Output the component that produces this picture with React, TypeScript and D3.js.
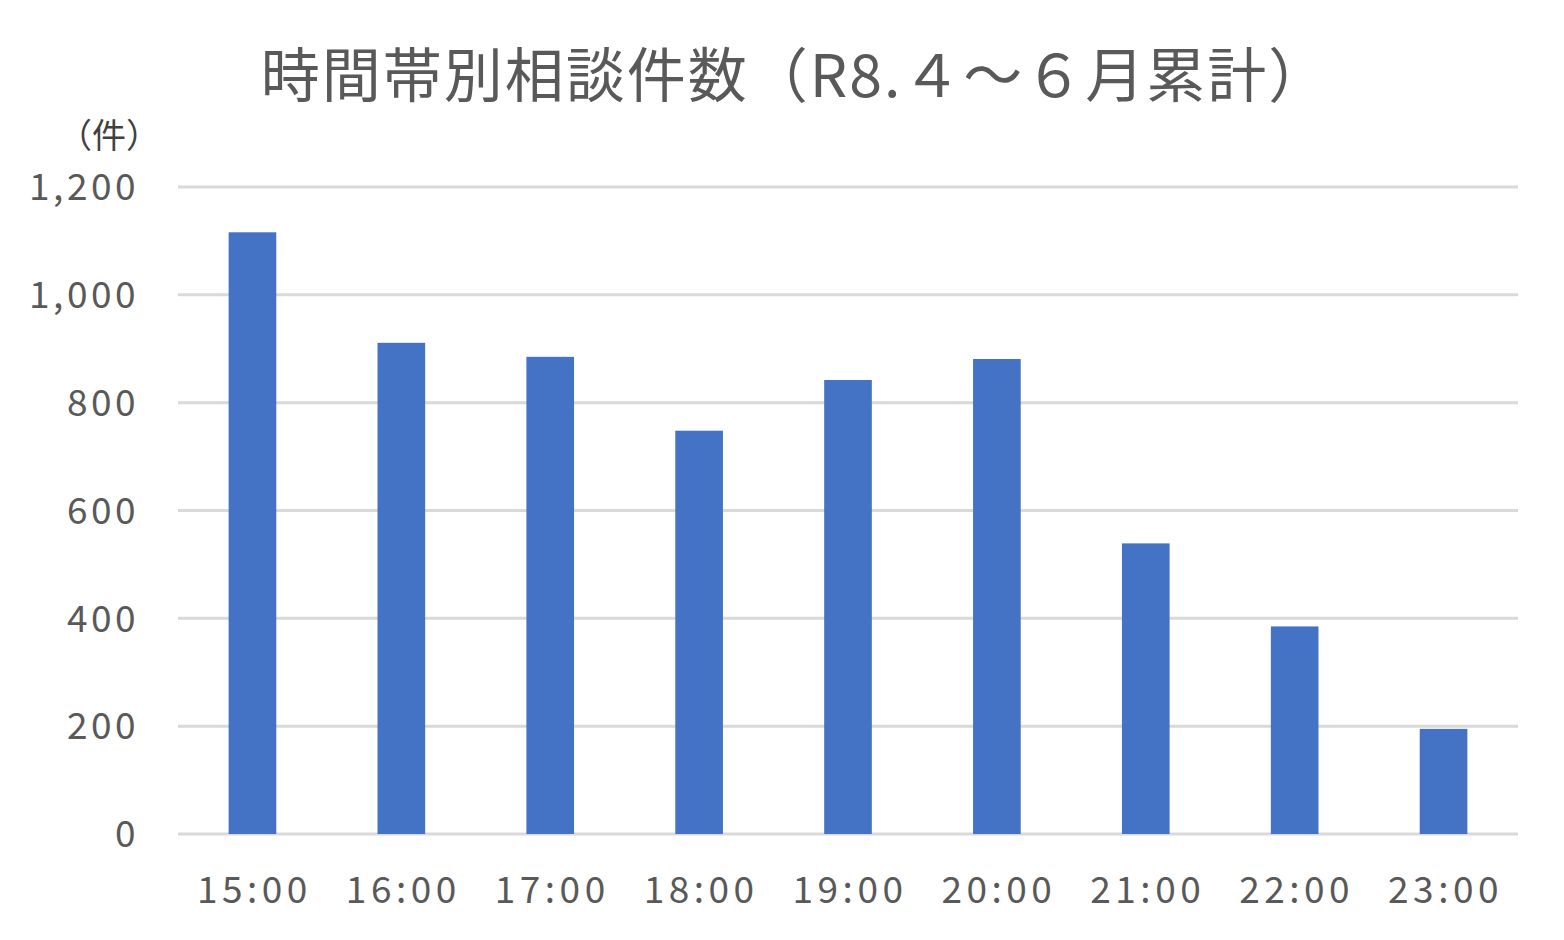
import { useRef, useEffect } from 'react';
import * as d3 from 'd3';

const categories = ['15:00', '16:00', '17:00', '18:00', '19:00', '20:00', '21:00', '22:00', '23:00'];
const counts = [1116, 911, 885, 748, 842, 881, 539, 385, 195];
const yTicks = [0, 200, 400, 600, 800, 1000, 1200];

const titleText = '時間帯別相談件数（R8.４～６月累計）';
const unitText = '（件）';

const WIDTH = 1564;
const HEIGHT = 940;
const FONT = '"Noto Sans CJK JP", "Noto Sans", sans-serif';

/**
 * Bar chart of consultation counts by time slot
 */
export default function App() {
  const svgRef = useRef<SVGSVGElement>(null);

  useEffect(() => {
    if (!svgRef.current) return;
    const svg = d3.select(svgRef.current);
    svg.selectAll('*').remove();

    const margin = { top: 187, right: 46, bottom: 106, left: 178 };
    const innerWidth = WIDTH - margin.left - margin.right;
    const innerHeight = HEIGHT - margin.top - margin.bottom;

    svg.append('rect').attr('width', WIDTH).attr('height', HEIGHT).attr('fill', '#ffffff');

    const g = svg.append('g').attr('transform', `translate(${margin.left},${margin.top})`);

    const xScale = d3
      .scaleBand()
      .domain(categories)
      .range([0, innerWidth])
      .paddingInner(0.68)
      .paddingOuter(0.34);

    const yScale = d3.scaleLinear().domain([0, 1200]).range([innerHeight, 0]);
    const fmt = d3.format(',');

    // gridlines
    g.selectAll('.grid')
      .data(yTicks)
      .join('line')
      .attr('class', 'grid')
      .attr('x1', 0)
      .attr('x2', innerWidth)
      .attr('y1', (d) => yScale(d))
      .attr('y2', (d) => yScale(d))
      .attr('stroke', '#d9d9d9')
      .attr('stroke-width', 3);

    // y labels
    g.selectAll('.y-label')
      .data(yTicks)
      .join('text')
      .attr('class', 'y-label')
      .attr('x', -39)
      .attr('y', (d) => yScale(d))
      .attr('dy', '0.36em')
      .attr('text-anchor', 'end')
      .attr('fill', '#595959')
      .attr('font-family', FONT)
      .attr('font-size', '37px')
      .attr('letter-spacing', '3.5px')
      .text((d) => fmt(d));

    // bars
    g.selectAll('.bar')
      .data(categories.map((c, i) => ({ label: c, value: counts[i] })))
      .join('rect')
      .attr('class', 'bar')
      .attr('x', (d) => xScale(d.label) || 0)
      .attr('width', xScale.bandwidth())
      .attr('y', (d) => yScale(d.value))
      .attr('height', (d) => innerHeight - yScale(d.value))
      .attr('fill', '#4472c4');

    // x labels
    g.selectAll('.x-label')
      .data(categories)
      .join('text')
      .attr('class', 'x-label')
      .attr('x', (d) => (xScale(d) || 0) + xScale.bandwidth() / 2 + 2)
      .attr('y', innerHeight + 69)
      .attr('text-anchor', 'middle')
      .attr('fill', '#595959')
      .attr('font-family', FONT)
      .attr('font-size', '37px')
      .attr('letter-spacing', '4.5px')
      .text((d) => d);

    // title
    svg
      .append('text')
      .attr('x', 795)
      .attr('y', 97)
      .attr('text-anchor', 'middle')
      .attr('fill', '#595959')
      .attr('font-family', FONT)
      .attr('font-size', '59px')
      .attr('letter-spacing', '2px')
      .text(titleText);

    // unit label
    svg
      .append('text')
      .attr('x', 109)
      .attr('y', 148)
      .attr('text-anchor', 'middle')
      .attr('fill', '#404040')
      .attr('font-family', FONT)
      .attr('font-size', '34px')
      .text(unitText);
  }, []);

  return (
    <svg
      ref={svgRef}
      width={WIDTH}
      height={HEIGHT}
      style={{ position: 'absolute', left: 0, top: 0, display: 'block' }}
    />
  );
}
